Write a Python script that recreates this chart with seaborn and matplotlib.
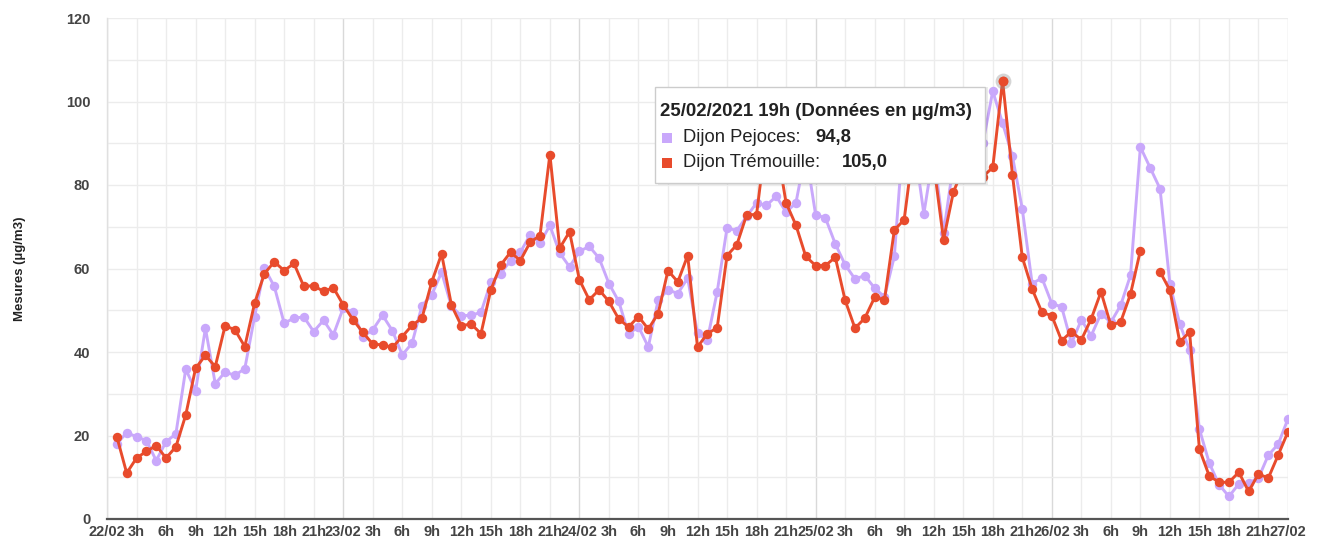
import numpy as np
import pandas as pd
import matplotlib
matplotlib.use("Agg")
import matplotlib.pyplot as plt
from matplotlib.patches import Rectangle
import seaborn as sns

# ---- data (hourly, 22/02/2021 1h -> 27/02/2021 0h) ----
stations = ["Dijon Pejoces", "Dijon Trémouille"]
colors = ["#c9a8fb", "#e84b2c"]

pejoces = [18.0, 20.7, 19.7, 18.8, 14.0, 18.5, 20.4, 35.9, 30.7, 45.7,
           32.4, 35.2, 34.4, 36.0, 48.5, 60.1, 55.7, 46.9, 48.1, 48.4,
           44.9, 47.6, 44.1, 50.5, 49.5, 43.7, 45.3, 48.8, 45.1, 39.3,
           42.1, 51.1, 53.7, 59.1, 50.9, 48.7, 48.8, 49.5, 56.7, 58.8,
           61.9, 63.9, 68.1, 66.1, 70.3, 63.7, 60.4, 64.1, 65.3, 62.5,
           56.4, 52.1, 44.3, 46.1, 41.2, 52.4, 54.9, 54.0, 57.7, 44.5,
           42.9, 54.4, 69.7, 69.1, 72.5, 75.7, 75.1, 77.3, 73.5, 75.7,
           88.0, 72.9, 72.1, 65.9, 60.9, 57.5, 58.3, 55.3, 53.2, 62.9,
           95.0, 90.0, 73.1, 88.0, 68.5, 85.0, 88.0, 92.0, 90.0, 102.5,
           94.8, 86.9, 74.3, 56.4, 57.7, 51.6, 50.8, 42.1, 47.7, 43.9,
           49.2, 47.1, 51.2, 58.4, 89.1, 84.1, 79.1, 56.3, 46.7, 40.5,
           21.5, 13.4, 8.2, 5.4, 8.4, 8.6, 9.8, 15.3, 17.9, 24.0]

tremouille = [19.7, 11.0, 14.6, 16.2, 17.6, 14.6, 17.3, 24.9, 36.1, 39.2,
              36.5, 46.3, 45.3, 41.3, 51.7, 58.8, 61.6, 59.5, 61.2, 55.7,
              55.9, 54.5, 55.4, 51.3, 47.7, 44.7, 41.9, 41.7, 41.1, 43.7,
              46.4, 48.1, 56.8, 63.5, 51.2, 46.3, 46.7, 44.4, 54.9, 60.8,
              63.9, 61.9, 66.3, 67.9, 87.3, 64.9, 68.8, 57.3, 52.5, 54.9,
              52.1, 47.9, 46.0, 48.5, 45.5, 49.2, 59.5, 56.8, 63.1, 41.2,
              44.4, 45.8, 63.1, 65.7, 72.9, 72.9, 92.0, 90.0, 75.7, 70.4,
              62.9, 60.7, 60.7, 62.7, 52.4, 45.7, 48.1, 53.1, 52.5, 69.2,
              71.7, 90.0, 95.0, 85.0, 66.9, 78.3, 84.0, 83.0, 82.0, 84.2,
              105.0, 82.5, 62.7, 55.1, 49.5, 48.7, 42.7, 44.9, 42.9, 47.9,
              54.4, 46.4, 47.2, 53.9, 64.3, np.nan, 59.2, 54.8, 42.4, 44.8,
              16.7, 10.3, 8.8, 8.8, 11.2, 6.6, 10.8, 9.8, 15.3, 20.9]

day_labels = ["22/02", "23/02", "24/02", "25/02", "26/02", "27/02"]
hour_labels = ["3h", "6h", "9h", "12h", "15h", "18h", "21h"]

tooltip_title = "25/02/2021 19h (Données en µg/m3)"
tooltip_values = ["94,8", "105,0"]
tooltip_index = 90  # 25/02 19h

# ---- long-form table ----
hours = np.arange(1, len(pejoces) + 1)
frames = []
for name, vals in zip(stations, [pejoces, tremouille]):
    v = np.asarray(vals, dtype=float)
    seg = np.cumsum(np.isnan(v))
    frames.append(pd.DataFrame({"hour": hours, "value": v,
                                "station": name, "segment": seg}))
df = pd.concat(frames, ignore_index=True)

sns.set_style("white")
plt.rcParams["font.family"] = ["Liberation Sans", "DejaVu Sans"]

fig = plt.figure(figsize=(13.19, 5.44), dpi=100)
ax = fig.add_axes([107 / 1319, 1 - 519 / 544, 1181 / 1319, 501 / 544])

# grid
ax.set_axisbelow(True)
ax.set_yticks(np.arange(0, 121, 10), minor=True)
ax.grid(axis="y", which="both", color="#ececec", lw=1.0)
xt = np.arange(0, 121, 3)
for h in xt:
    ax.axvline(h, color="#d9d9d9" if h % 24 == 0 else "#ececec", lw=1.0, zorder=0)

sns.lineplot(data=df, x="hour", y="value", hue="station", units="segment",
             estimator=None, hue_order=stations, palette=colors,
             marker="o", markersize=6.8, markeredgewidth=0, lw=2.1,
             legend=False, ax=ax, sort=False)

# highlighted point
hx = hours[tooltip_index]
hy = tremouille[tooltip_index]
ax.scatter([hx], [hy], s=130, color="#888888", alpha=0.35, zorder=5, lw=0)
ax.scatter([hx], [hy], s=50, color=colors[1], zorder=6, lw=0)

ax.set_xlim(0, 120)
ax.set_ylim(0, 120)
ax.set_yticks(np.arange(0, 121, 20))
labels = []
for h in xt:
    if h % 24 == 0:
        labels.append(day_labels[h // 24])
    else:
        labels.append(hour_labels[(h % 24) // 3 - 1])
ax.set_xticks(xt)
ax.set_xticklabels(labels)
ax.tick_params(axis="both", length=0, labelsize=10.5, labelcolor="#444444")
for t in ax.get_xticklabels() + ax.get_yticklabels():
    t.set_fontweight("bold")
ax.tick_params(axis="y", pad=12)
ax.tick_params(axis="x", pad=4)
ax.set_xlabel("")
ax.set_ylabel("Mesures (µg/m3)", fontsize=9.5, fontweight="bold",
              color="#222222", labelpad=29)

for s in ["top", "right"]:
    ax.spines[s].set_visible(False)
ax.spines["left"].set_color("#e0e0e0")
ax.spines["left"].set_linewidth(1.0)
ax.spines["bottom"].set_color("#555555")
ax.spines["bottom"].set_linewidth(1.6)

# tooltip
tt = ax.transAxes
shadow = Rectangle((0.4665, 0.6667), 0.2795, 0.1956, transform=tt,
                   facecolor="#000000", alpha=0.08, lw=0, zorder=9)
ax.add_patch(shadow)
box = Rectangle((0.464, 0.6707), 0.2794, 0.1916, transform=tt,
                facecolor="white", edgecolor="#cccccc", lw=1.0, zorder=10)
ax.add_patch(box)
ax.text(0.4685, 0.8124, tooltip_title, transform=tt, fontsize=13.4,
        fontweight="bold", color="#222222", va="center", ha="left", zorder=11)
rows = [(stations[0], tooltip_values[0], 0.7605, 0.5995),
        (stations[1], tooltip_values[1], 0.7106, 0.6224)]
for (name, val, yy, vx), c in zip(rows, colors):
    ax.add_patch(Rectangle((0.4703, yy - 0.0095), 0.0080, 0.019, transform=tt,
                           facecolor=c, lw=0, zorder=11))
    ax.text(0.4880, yy, name + ":", transform=tt, fontsize=13.2,
            color="#222222", va="center", ha="left", zorder=11)
    ax.text(vx, yy, val, transform=tt, fontsize=13.2, fontweight="bold",
            color="#222222", va="center", ha="left", zorder=11)

fig.savefig("out.png", dpi=100)
